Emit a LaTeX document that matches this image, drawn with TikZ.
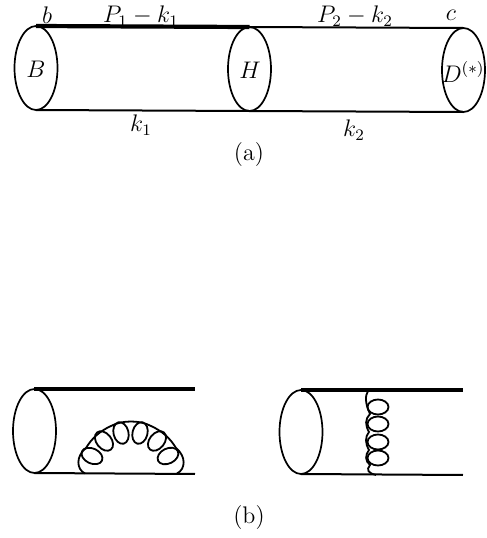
\documentclass[tikz,border=0pt]{standalone}
\usetikzlibrary{shapes.geometric}
\tikzset{
  meson/.style={draw=black,ellipse,line width=0.85pt,minimum width=21.5pt,minimum height=42pt,inner sep=0pt,outer sep=0pt},
  heavy/.style={line width=2.1pt,line cap=butt},
  medium/.style={line width=1pt},
  gluon/.style={line width=0.9pt},
  lbl/.style={inner sep=0pt,font=\fontsize{12}{14}\selectfont,text=black}
}
\begin{document}
\begin{tikzpicture}[x=0.5pt,y=0.5pt]
\useasboundingbox (0,0) rectangle (487,538);
% upper diagram
\node[meson] (B) at (36,470) {};
\node[meson] (H) at (249.5,469) {};
\node[meson] (D) at (463.5,468) {};
\draw[heavy] (B.north) -- (H.north);
\draw[medium] (H.north) -- (D.north);
\draw[medium] (B.south) -- (H.south);
\draw[medium] (H.south) -- (D.south);
\node[lbl] (tB) at (36,469) {$B$};
\node[lbl] (tH) at (250,468) {$H$};
\node[lbl] (tD) at (463,466) {$D^{(*)}$};
\node[lbl] (tb) at (47,523) {$b$};
\node[lbl] (tc) at (451,523) {$c$};
\node[lbl] (tp1) at (141,522) {$P_1-k_1$};
\node[lbl] (tp2) at (355,522) {$P_2-k_2$};
\node[lbl] (tk1) at (141,413) {$k_1$};
\node[lbl] (tk2) at (354,408) {$k_2$};
\node[lbl] (ta) at (249,383) {(a)};
% lower left
\node[meson] (L) at (34.5,107) {};
\coordinate (Lt) at (195,149);
\coordinate (Lb) at (195,64);
\draw[heavy] (L.north) -- (Lt);
\draw[medium] (L.south) -- (Lb);
\foreach \a/\cx/\cy in {155/92/82,129/104/97,104/121/105,76/140/105,51/157/97,26/168/82}
  \draw[gluon,rotate around={\a:(\cx,\cy)}] (\cx,\cy) ellipse [x radius=11,y radius=7.5];
\draw[gluon] (85,64.5) .. controls (76,69) and (76,82) .. (86,90)
  .. controls (92,100) and (100,107) .. (111,112)
  .. controls (122,118) and (140,118) .. (151,112)
  .. controls (162,107) and (170,100) .. (176,90)
  .. controls (186,82) and (186,69) .. (177,64.5);
% lower right
\node[meson] (R) at (301,106) {};
\coordinate (Rt) at (463,148);
\coordinate (Rb) at (463,63);
\draw[heavy] (R.north) -- (Rt);
\draw[medium] (R.south) -- (Rb);
\foreach \cy in {131,114,96,80}
  \draw[gluon] (378,\cy) ellipse [x radius=10.5,y radius=7.5];
\draw[gluon] (368,147) .. controls (365,142) and (365,135) .. (370,124)
  .. controls (365,119) and (365,113) .. (369,106)
  .. controls (365,101) and (365,95) .. (369,88)
  .. controls (365,83) and (365,77) .. (370,73)
  .. controls (366,68) and (368,65) .. (376,63);
\node[lbl] (tbb) at (249,20) {(b)};
\end{tikzpicture}
\end{document}
